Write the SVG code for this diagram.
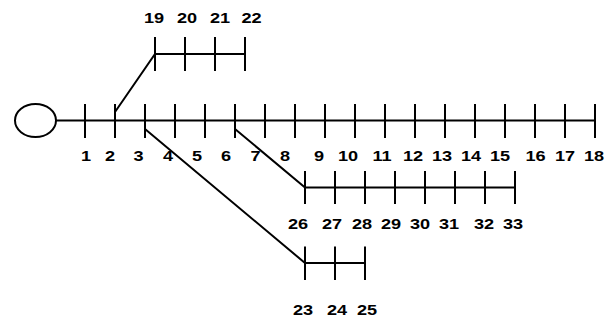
<svg xmlns="http://www.w3.org/2000/svg" width="613" height="322" viewBox="0 0 613 322">
<style>
.ln{stroke:#000;stroke-width:2;fill:none}
.tk{stroke:#000;stroke-width:2}
.lb{font-family:"Liberation Sans",Arial,sans-serif;font-weight:bold;font-size:14.5px;fill:#000;text-anchor:middle}
</style>
<rect width="613" height="322" fill="#fff"/>
<g id="source"><ellipse cx="35.5" cy="120.5" rx="20.5" ry="16.5" class="ln"/></g>
<g id="connectors">
<polyline class="ln" points="56,120.5 595,120.5"/>
<polyline class="ln" points="115,112 155,54 245,54"/>
<polyline class="ln" points="145,129 305,263 365,263"/>
<polyline class="ln" points="235,129 305,187.5 515,187.5"/>
</g>
<g id="bus1"><line class="tk" x1="85" y1="104" x2="85" y2="138"/><text class="lb" transform="translate(86,161) scale(1.25,1)">1</text></g>
<g id="bus2"><line class="tk" x1="115" y1="104" x2="115" y2="138"/><text class="lb" transform="translate(110,161) scale(1.25,1)">2</text></g>
<g id="bus3"><line class="tk" x1="145" y1="104" x2="145" y2="138"/><text class="lb" transform="translate(138.5,161) scale(1.25,1)">3</text></g>
<g id="bus4"><line class="tk" x1="175" y1="104" x2="175" y2="138"/><text class="lb" transform="translate(168,161) scale(1.25,1)">4</text></g>
<g id="bus5"><line class="tk" x1="205" y1="104" x2="205" y2="138"/><text class="lb" transform="translate(197,161) scale(1.25,1)">5</text></g>
<g id="bus6"><line class="tk" x1="235" y1="104" x2="235" y2="138"/><text class="lb" transform="translate(226,161) scale(1.25,1)">6</text></g>
<g id="bus7"><line class="tk" x1="265" y1="104" x2="265" y2="138"/><text class="lb" transform="translate(255.5,161) scale(1.25,1)">7</text></g>
<g id="bus8"><line class="tk" x1="295" y1="104" x2="295" y2="138"/><text class="lb" transform="translate(285,161) scale(1.25,1)">8</text></g>
<g id="bus9"><line class="tk" x1="325" y1="104" x2="325" y2="138"/><text class="lb" transform="translate(319,161) scale(1.25,1)">9</text></g>
<g id="bus10"><line class="tk" x1="355" y1="104" x2="355" y2="138"/><text class="lb" transform="translate(348,161) scale(1.25,1)">10</text></g>
<g id="bus11"><line class="tk" x1="385" y1="104" x2="385" y2="138"/><text class="lb" transform="translate(382,161) scale(1.25,1)">11</text></g>
<g id="bus12"><line class="tk" x1="415" y1="104" x2="415" y2="138"/><text class="lb" transform="translate(413,161) scale(1.25,1)">12</text></g>
<g id="bus13"><line class="tk" x1="445" y1="104" x2="445" y2="138"/><text class="lb" transform="translate(442,161) scale(1.25,1)">13</text></g>
<g id="bus14"><line class="tk" x1="475" y1="104" x2="475" y2="138"/><text class="lb" transform="translate(471,161) scale(1.25,1)">14</text></g>
<g id="bus15"><line class="tk" x1="505" y1="104" x2="505" y2="138"/><text class="lb" transform="translate(500,161) scale(1.25,1)">15</text></g>
<g id="bus16"><line class="tk" x1="535" y1="104" x2="535" y2="138"/><text class="lb" transform="translate(535.5,161) scale(1.25,1)">16</text></g>
<g id="bus17"><line class="tk" x1="565" y1="104" x2="565" y2="138"/><text class="lb" transform="translate(565,161) scale(1.25,1)">17</text></g>
<g id="bus18"><line class="tk" x1="595" y1="104" x2="595" y2="138"/><text class="lb" transform="translate(594,161) scale(1.25,1)">18</text></g>
<g id="bus19"><line class="tk" x1="155" y1="37" x2="155" y2="71"/><text class="lb" transform="translate(154,23) scale(1.25,1)">19</text></g>
<g id="bus20"><line class="tk" x1="185" y1="37" x2="185" y2="71"/><text class="lb" transform="translate(187,23) scale(1.25,1)">20</text></g>
<g id="bus21"><line class="tk" x1="215" y1="37" x2="215" y2="71"/><text class="lb" transform="translate(220,23) scale(1.25,1)">21</text></g>
<g id="bus22"><line class="tk" x1="245" y1="37" x2="245" y2="71"/><text class="lb" transform="translate(251.5,23) scale(1.25,1)">22</text></g>
<g id="bus23"><line class="tk" x1="305" y1="246.5" x2="305" y2="280"/><text class="lb" transform="translate(303,315) scale(1.25,1)">23</text></g>
<g id="bus24"><line class="tk" x1="335" y1="246.5" x2="335" y2="280"/><text class="lb" transform="translate(337,315) scale(1.25,1)">24</text></g>
<g id="bus25"><line class="tk" x1="365" y1="246.5" x2="365" y2="280"/><text class="lb" transform="translate(367,315) scale(1.25,1)">25</text></g>
<g id="bus26"><line class="tk" x1="305" y1="171" x2="305" y2="204"/><text class="lb" transform="translate(298,229) scale(1.25,1)">26</text></g>
<g id="bus27"><line class="tk" x1="335" y1="171" x2="335" y2="204"/><text class="lb" transform="translate(332,229) scale(1.25,1)">27</text></g>
<g id="bus28"><line class="tk" x1="365" y1="171" x2="365" y2="204"/><text class="lb" transform="translate(362,229) scale(1.25,1)">28</text></g>
<g id="bus29"><line class="tk" x1="395" y1="171" x2="395" y2="204"/><text class="lb" transform="translate(391,229) scale(1.25,1)">29</text></g>
<g id="bus30"><line class="tk" x1="425" y1="171" x2="425" y2="204"/><text class="lb" transform="translate(420,229) scale(1.25,1)">30</text></g>
<g id="bus31"><line class="tk" x1="455" y1="171" x2="455" y2="204"/><text class="lb" transform="translate(449,229) scale(1.25,1)">31</text></g>
<g id="bus32"><line class="tk" x1="485" y1="171" x2="485" y2="204"/><text class="lb" transform="translate(484,229) scale(1.25,1)">32</text></g>
<g id="bus33"><line class="tk" x1="515" y1="171" x2="515" y2="204"/><text class="lb" transform="translate(513,229) scale(1.25,1)">33</text></g>
</svg>
